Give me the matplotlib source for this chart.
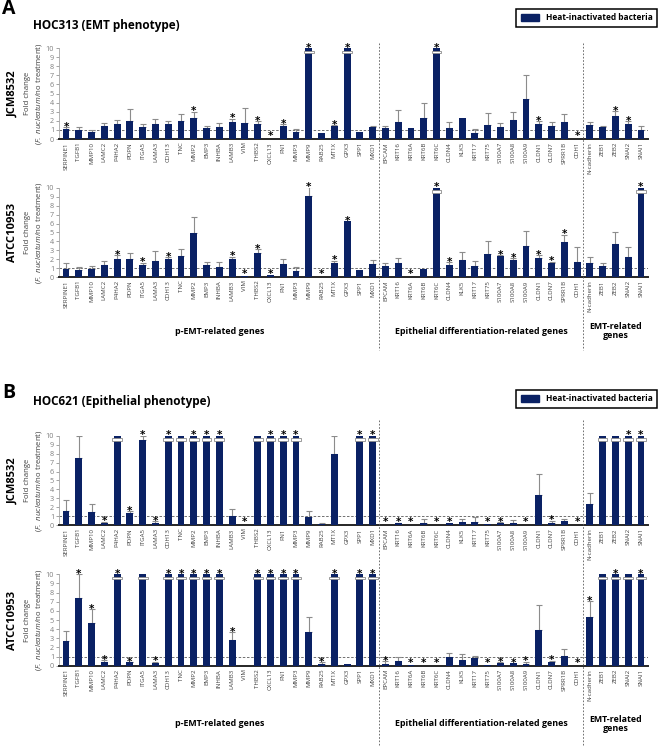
import numpy as np
import matplotlib
matplotlib.use("Agg")
import matplotlib.pyplot as plt
from matplotlib.patches import Patch, Rectangle
from matplotlib.lines import Line2D

plt.rcParams["font.family"] = ["Open Sans", "DejaVu Sans"]
plt.rcParams["mathtext.fontset"] = "custom"
plt.rcParams["mathtext.rm"] = "Open Sans"
plt.rcParams["mathtext.it"] = "Open Sans:italic"

# gene order on the x axis
genes = [
    "SERPINE1", "TGFB1", "MMP10", "LAMC2", "P4HA2", "PDPN", "ITGA5", "LAMA3",
    "CDH13", "TNC", "MMP2", "EMP3", "INHBA", "LAMB3", "VIM", "THBS2", "CXCL13",
    "FN1", "MMP3", "MMP9", "RAB25", "MT1X", "GPX3", "SPP1", "MXD1",
    "EPCAM", "KRT16", "KRT6A", "KRT6B", "KRT6C", "CLDN4", "KLK5", "KRT17",
    "KRT75", "S100A7", "S100A8", "S100A9", "CLDN1", "CLDN7", "SPRR1B", "CDH1",
    "N-cadherin", "ZEB1", "ZEB2", "SNAI2", "SNAI1",
]
group_names = ["p-EMT-related genes", "Epithelial differentiation-related genes",
               "EMT-related\ngenes"]
group_sizes = [25, 16, 5]

# fold change (10 = off scale, drawn broken), upper error, significance (1-based index)
a_jcm_val = [1.14, 1.03, 0.74, 1.44, 1.66, 2.0, 1.37, 1.62, 1.62, 2.0, 2.36, 1.18,
             1.37, 1.88, 1.73, 1.66, 0.02, 1.44, 0.74, 10, 0.7, 1.48, 10, 0.77, 1.33,
             1.22, 1.85, 1.22, 2.36, 10, 1.25, 2.36, 0.7, 1.59, 1.37, 2.14, 4.4,
             1.7, 1.48, 1.85, 0.02, 1.55, 1.33, 2.5, 1.7, 0.96]
a_jcm_err = [0.16, 0.27, 0.21, 0.36, 0.44, 1.35, 0.23, 0.58, 0.38, 0.7, 0.64, 0.3,
             0.36, 0.37, 1.67, 0.29, 0, 0.22, 0.33, 0, 0, 0.08, 0, 0, 0.07,
             0.22, 1.32, 0, 1.64, 0, 0.67, 0, 0.4, 1.25, 0.43, 0.81, 2.68,
             0.3, 0.4, 0.85, 0, 0.33, 0.05, 0.6, 0.25, 0.48]
a_jcm_sig = [1, 11, 14, 16, 17, 18, 20, 22, 23, 30, 38, 41, 44, 45]

a_atcc_val = [0.97, 0.82, 0.89, 1.34, 2.04, 2.0, 1.41, 1.82, 2.0, 2.34, 4.9, 1.38,
              1.19, 2.0, 0.19, 2.75, 0.3, 1.49, 0.7, 9.07, 0.03, 1.6, 6.28, 0.82, 1.49,
              1.23, 1.6, 0.02, 0.89, 10, 1.41, 1.93, 1.26, 2.64, 2.34, 1.93, 3.46,
              2.16, 1.64, 3.98, 1.75, 1.56, 1.23, 3.68, 2.3, 10]
a_atcc_err = [0.59, 0.33, 0.41, 0.52, 0.46, 0.7, 0.23, 1.15, 0.27, 0.82, 1.87, 0.33,
              0.52, 0.3, 0, 0.41, 0, 0.51, 0.45, 0.97, 0, 0.26, 0, 0, 0.48,
              0.33, 0.52, 0, 0, 0, 0.26, 0.93, 0.6, 1.37, 0.11, 0.19, 1.74,
              0.34, 0.11, 0.78, 1.6, 0.67, 0.33, 1.41, 1.05, 0]
a_atcc_sig = [5, 7, 9, 14, 15, 16, 17, 20, 21, 22, 23, 28, 30, 31, 35, 36, 38, 39,
              40, 46]

b_jcm_val = [1.64, 7.55, 1.45, 0.3, 10, 1.41, 9.5, 0.3, 10, 10, 10, 10, 10, 1.0,
             0.02, 10, 10, 10, 10, 0.97, 0.15, 7.92, 0.0, 10, 10,
             0.05, 0.22, 0.02, 0.26, 0.02, 0.22, 0.37, 0.41, 0.19, 0.26, 0.26, 0.02,
             3.38, 0.3, 0.45, 0.02, 2.34, 10, 10, 10, 10]
b_jcm_err = [1.15, 2.45, 0.89, 0.1, 0, 0.19, 0.5, 0.15, 0, 0, 0, 0, 0, 0.78,
             0, 0, 0, 0, 0, 0.67, 0.11, 2.08, 0, 0, 0,
             0, 0.08, 0, 0.44, 0, 0, 0.37, 0.52, 0, 0.07, 0.37, 0,
             2.31, 0.22, 0.29, 0, 1.3, 0, 0, 0, 0]
b_jcm_sig = [4, 6, 7, 8, 9, 11, 12, 13, 15, 17, 18, 19, 24, 25, 26, 27, 28, 30, 31,
             34, 35, 37, 39, 41, 45, 46]

b_atcc_val = [2.66, 7.37, 4.64, 0.44, 10, 0.36, 10, 0.29, 10, 10, 10, 10, 10, 2.77,
              0.0, 10, 10, 10, 10, 3.69, 0.18, 10, 0.18, 10, 10,
              0.22, 0.55, 0.1, 0.02, 0.02, 0.99, 0.66, 0.84, 0.1, 0.29, 0.26, 0.22,
              3.87, 0.4, 1.1, 0.02, 5.3, 10, 10, 10, 10]
b_atcc_err = [1.1, 2.63, 1.56, 0.18, 0, 0.07, 0, 0.15, 0, 0, 0, 0, 0, 0.88,
              0, 0, 0, 0, 0, 1.61, 0.22, 0, 0, 0, 0,
              0.25, 0.4, 0, 0, 0, 0.36, 0.65, 0.26, 0, 0.07, 0, 0.22,
              2.77, 0.15, 0.76, 0, 1.74, 0, 0, 0, 0]
b_atcc_sig = [2, 3, 4, 5, 6, 8, 9, 10, 11, 12, 13, 14, 16, 17, 18, 19, 21, 22, 24,
              25, 26, 28, 29, 30, 34, 35, 36, 37, 39, 41, 42, 44, 46]

BAR = "#0a2164"
ERR = "#8c8c8c"
GRAY = "#7f7f7f"
W, H = 669, 749
XMIN, XMAX = -0.55, 45.55
LEFT, WIDTH = 59 / W, 589 / W


def fx(i):
    return LEFT + WIDTH * (i - XMIN) / (XMAX - XMIN)


def fy(px):
    return 1 - px / H


def draw_panel(ax, vals, errs, sig, strain):
    vals = np.array(vals, dtype=float)
    errs = np.array(errs, dtype=float)
    x = np.arange(len(genes))
    shown = np.minimum(vals, 10)
    ax.axhline(1, color="#595959", ls=(0, (3, 2)), lw=0.6, zorder=1)
    ax.bar(x, shown, width=0.54, color=BAR, zorder=3)
    m = errs > 0
    ax.errorbar(x[m], shown[m], yerr=[np.zeros(m.sum()), errs[m]], fmt="none",
                ecolor=ERR, elinewidth=0.8, capsize=2.4, capthick=0.8, zorder=2)
    for i in x[vals >= 10]:
        ax.add_patch(Rectangle((i - 0.38, 9.45), 0.76, 0.25, facecolor="white",
                               edgecolor="#8c8c8c", lw=0.6, zorder=4, clip_on=False))
    pts_per_unit = ax.get_position().height * H * 0.72 / 10
    for k in sig:
        i = k - 1
        top = 10 if vals[i] >= 10 else shown[i] + errs[i]
        # keep the asterisk box clear of the gene labels for bars near zero
        off = max(-3.4, -1.3 - top * pts_per_unit)
        ax.annotate("*", (i, top), xytext=(0, off), textcoords="offset points",
                    ha="center", va="bottom", fontsize=7.5, fontweight="bold",
                    family="DejaVu Sans", annotation_clip=False)

    ax.set_xlim(XMIN, XMAX)
    ax.set_ylim(0, 10)
    ax.set_yticks(range(0, 11))
    ax.set_xticks(x)
    ax.set_xticklabels(genes, rotation=90, fontsize=4.4, color="#404040")
    ax.tick_params(axis="x", length=0, pad=2.2)
    ax.tick_params(axis="y", labelsize=5.2, colors=GRAY, length=2, width=0.5, pad=1.5)
    for s in ("top", "right"):
        ax.spines[s].set_visible(False)
    ax.spines["left"].set_color("#a6a6a6")
    ax.spines["left"].set_linewidth(0.6)
    ax.spines["bottom"].set_color("#262626")
    ax.spines["bottom"].set_linewidth(1.4)

    pos = ax.get_position()
    yc = pos.y0 + pos.height / 2
    fig.text(13 / W, yc, strain, rotation=90, ha="center", va="center",
             fontsize=8, fontweight="bold")
    fig.text(27.5 / W, yc, "Fold change", rotation=90, ha="center", va="center",
             fontsize=5.6, color="#404040")
    fig.text(38.5 / W, yc, r"($\it{F.\ nucleatum}$/no treatment)", rotation=90,
             ha="center", va="center", fontsize=5.6, color="#404040")


fig = plt.figure(figsize=(W / 100, H / 100), dpi=100)

panels = [
    ((0.8144, 0.1215), a_jcm_val, a_jcm_err, a_jcm_sig, "JCM8532"),
    ((0.6298, 0.1196), a_atcc_val, a_atcc_err, a_atcc_sig, "ATCC10953"),
    ((0.2987, 0.1196), b_jcm_val, b_jcm_err, b_jcm_sig, "JCM8532"),
    ((0.1112, 0.1220), b_atcc_val, b_atcc_err, b_atcc_sig, "ATCC10953"),
]
axes = []
for (bottom, height), v, e, s, name in panels:
    ax = fig.add_axes([LEFT, bottom, WIDTH, height])
    draw_panel(ax, v, e, s, name)
    axes.append(ax)

sections = [
    # letter, title, letter y, title y, legend y, separator top/bottom, group label y
    ("A", "HOC313 (EMT phenotype)", 9, 25, 18, 43, 350, 331, axes[0]),
    ("B", "HOC621 (Epithelial phenotype)", 393, 402, 399, 420, 745, 724, axes[2]),
]
bounds = np.cumsum([0] + group_sizes)
for letter, title, ly, ty, gy, s0, s1, gly, ax in sections:
    fig.text(2 / W, fy(ly), letter, fontsize=14, fontweight="bold", va="center")
    fig.text(33 / W, fy(ty), title, fontsize=8.5, fontweight="bold", va="center")
    leg = ax.legend(handles=[Patch(color=BAR, label="Heat-inactivated bacteria")],
                    loc="center", bbox_to_anchor=(586.5 / W, fy(gy)),
                    bbox_transform=fig.transFigure, frameon=True, fancybox=False,
                    framealpha=1, handlelength=2.2, handleheight=1.0,
                    borderpad=0.5, prop={"size": 6, "weight": "bold"})
    leg.get_frame().set_edgecolor("black")
    leg.get_frame().set_linewidth(1.1)
    for b in bounds[1:-1]:
        fig.add_artist(Line2D([fx(b - 0.5)] * 2, [fy(s0), fy(s1)], color="#595959",
                              ls=(0, (2, 2)), lw=0.6))
    for name, a, b in zip(group_names, bounds[:-1], bounds[1:]):
        fig.text(fx((a + b - 1) / 2), fy(gly), name, ha="center", va="center",
                 fontsize=6.4, fontweight="bold", linespacing=1.1)

fig.savefig("out.png", dpi=100)
